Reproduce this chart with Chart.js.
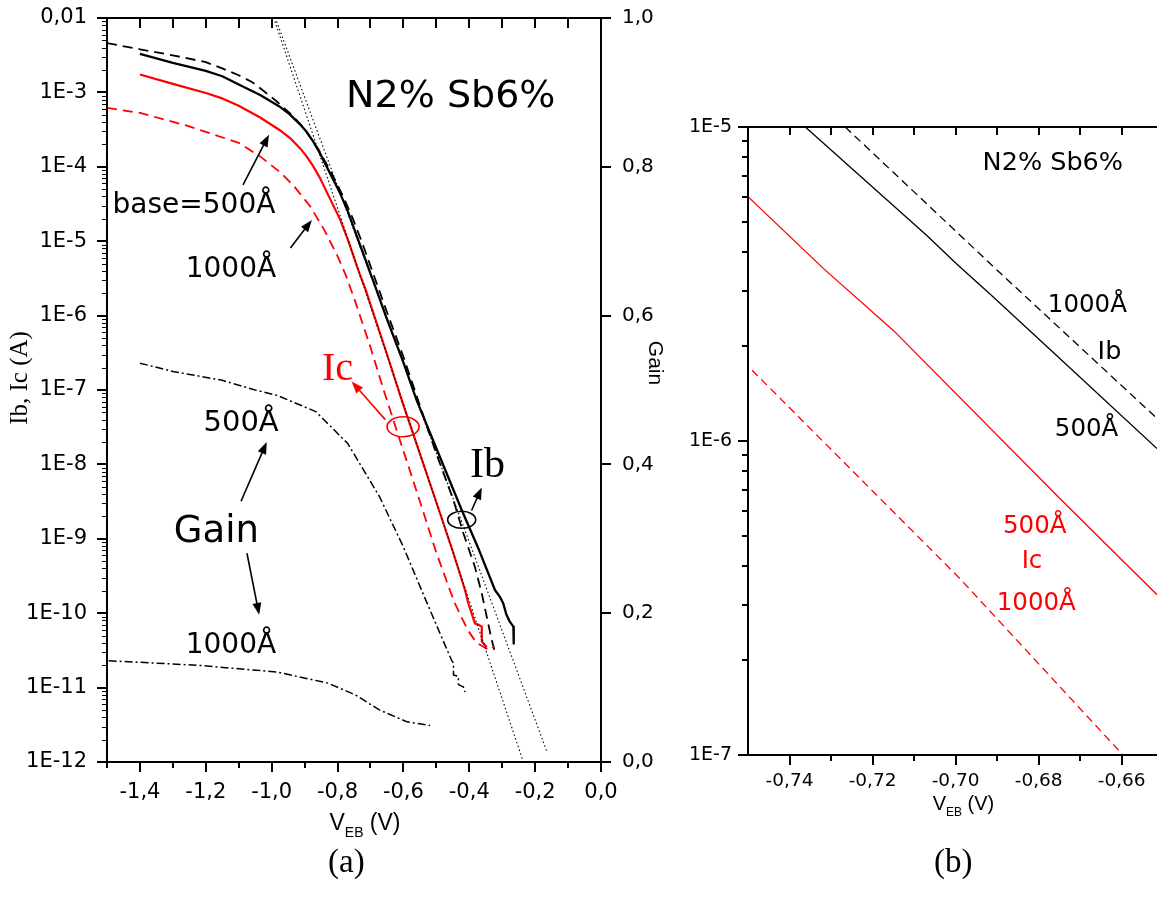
<!DOCTYPE html>
<html>
<head>
<meta charset="utf-8">
<script src="https://cdn.jsdelivr.net/npm/chart.js@4.4.1/dist/chart.umd.min.js"></script>
<style>
  html, body { margin: 0; padding: 0; background: #fff; }
  body { width: 1157px; height: 910px; position: relative; overflow: hidden; }
  #wa { position: absolute; left: 0; top: 0; width: 700px; height: 900px; }
  #wb { position: absolute; left: 660px; top: 0; width: 497px; height: 900px; }
  .cap { position: absolute; top: 845px; font-family: "Liberation Serif", serif; font-size: 33px; line-height: 33px; color: #000; z-index: 5; }
</style>
</head>
<body>
<div id="wa"><canvas id="ca" width="700" height="900"></canvas></div>
<div id="wb"><canvas id="cb" width="497" height="900"></canvas></div>
<div class="cap" style="left:328px">(a)</div>
<div class="cap" style="left:934px">(b)</div>
<script>
// ================= DATA : panel (a) =================
// Ib, base = 500 Å (black solid)
const ib500_V = [-1.40,-1.30,-1.20,-1.15,-1.10,-1.035,-0.975,-0.945,-0.914,-0.894,-0.874,-0.853,-0.833,-0.792,-0.767,-0.736,-0.707,-0.700,-0.691,-0.675,-0.652,-0.600,-0.560,-0.500,-0.423,-0.370,-0.322,-0.307,-0.297,-0.287,-0.277,-0.266,-0.265];
const ib500_A = [3.3e-3,2.5e-3,1.95e-3,1.65e-3,1.28e-3,9.2e-4,6.4e-4,5.07e-4,3.72e-4,2.95e-4,2.19e-4,1.51e-4,1.0e-4,4.4e-5,2.4e-5,1.0e-5,4.5e-6,3.67e-6,2.88e-6,1.83e-6,9.5e-7,2.35e-7,7.3e-8,1.65e-8,2.44e-9,7.0e-10,2.05e-10,1.66e-10,1.36e-10,9.5e-11,7.7e-11,6.6e-11,3.9e-11];
// Ib, base = 1000 Å (black dashed)
const ib1000_V = [-1.50,-1.40,-1.30,-1.20,-1.15,-1.10,-1.06,-1.025,-0.985,-0.944,-0.904,-0.858,-0.818,-0.783,-0.755,-0.727,-0.690,-0.652,-0.600,-0.550,-0.504,-0.448,-0.418,-0.383,-0.362,-0.347,-0.332,-0.322];
const ib1000_A = [4.6e-3,3.8e-3,3.15e-3,2.55e-3,2.1e-3,1.7e-3,1.38e-3,1.05e-3,7.6e-4,5.2e-4,3.4e-4,1.72e-4,8.2e-5,4.0e-5,2.09e-5,1.0e-5,3.5e-6,1.18e-6,2.8e-7,6.2e-8,1.56e-8,3.3e-9,1.19e-9,4.2e-10,1.85e-10,9.0e-11,4.4e-11,3.0e-11];
// Ic, base = 500 Å (red solid)
const ic500_V = [-1.40,-1.30,-1.20,-1.15,-1.10,-1.035,-0.975,-0.945,-0.914,-0.894,-0.874,-0.853,-0.833,-0.792,-0.767,-0.750,-0.732,-0.715,-0.675,-0.652,-0.605,-0.550,-0.500,-0.450,-0.413,-0.403,-0.393,-0.383,-0.372,-0.362,-0.362,-0.347];
const ic500_A = [1.74e-3,1.30e-3,9.8e-4,8.3e-4,6.6e-4,4.6e-4,3.1e-4,2.45e-4,1.78e-4,1.38e-4,1.02e-4,7.0e-5,4.6e-5,1.95e-5,1.0e-5,6.0e-6,3.54e-6,2.25e-6,6.56e-7,3.24e-7,7.3e-8,1.4e-8,3.1e-9,6.8e-10,2.05e-10,1.36e-10,1.0e-10,7.3e-11,7.0e-11,6.6e-11,4.2e-11,3.5e-11];
// Ic, base = 1000 Å (red dashed)
const ic1000_V = [-1.50,-1.40,-1.26,-1.10,-1.035,-0.975,-0.934,-0.883,-0.840,-0.800,-0.775,-0.749,-0.699,-0.660,-0.600,-0.550,-0.500,-0.459,-0.444,-0.423,-0.403,-0.378,-0.350,-0.337,-0.325];
const ic1000_A = [6.2e-4,5.3e-4,3.6e-4,2.1e-4,1.38e-4,8.5e-5,5.6e-5,2.95e-5,1.41e-5,6.3e-6,3.5e-6,1.68e-6,3.65e-7,1.0e-7,1.52e-8,3.2e-9,6.5e-10,2.05e-10,1.37e-10,8.7e-11,5.8e-11,4.0e-11,3.4e-11,3.2e-11,3.6e-11];
// Gain (right axis), 500 Å and 1000 Å (dash-dot)
const gain500_V = [-1.40,-1.30,-1.15,-1.05,-0.985,-0.866,-0.769,-0.673,-0.601,-0.541,-0.489,-0.454,-0.448,-0.448,-0.433,-0.433,-0.418,-0.413];
const gain500_G = [0.536,0.525,0.513,0.500,0.493,0.471,0.428,0.357,0.290,0.227,0.173,0.137,0.133,0.117,0.115,0.104,0.101,0.094];
const gain1000_V = [-1.495,-1.40,-1.225,-0.985,-0.829,-0.745,-0.673,-0.589,-0.519];
const gain1000_G = [0.136,0.134,0.130,0.121,0.106,0.090,0.070,0.054,0.049];
// dotted ideal-slope reference lines
const fitA_V = [-0.990,-0.238];
const fitA_A = [9e-3,1.07e-12];
const fitB_V = [-0.985,-0.163];
const fitB_A = [9e-3,1.33e-12];

// ticks panel (a)
const aXTicks = [-1.4,-1.2,-1.0,-0.8,-0.6,-0.4,-0.2,0.0];
const aXMinor = [-1.5,-1.3,-1.1,-0.9,-0.7,-0.5,-0.3,-0.1];
const aXTop = [-1.4,-1.3,-1.2,-1.1,-1.0,-0.9,-0.8,-0.7,-0.6,-0.5,-0.4,-0.3,-0.2,-0.1];
const aYDecades = [1e-12,1e-11,1e-10,1e-9,1e-8,1e-7,1e-6,1e-5,1e-4,1e-3,1e-2];
const aGainTicks = [0,0.2,0.4,0.6,0.8,1.0];

// ================= DATA : panel (b) =================
const bIb500_V = [-0.7362,-0.707,-0.6998,-0.691,-0.6749,-0.6515];
const bIb500_A = [1.0e-5,4.52e-6,3.67e-6,2.88e-6,1.83e-6,9.46e-7];
const bIb1000_V = [-0.7266,-0.690,-0.6515];
const bIb1000_A = [1.0e-5,3.5e-6,1.18e-6];
const bIc500_V = [-0.750,-0.7318,-0.715,-0.6749,-0.6515];
const bIc500_A = [6.0e-6,3.54e-6,2.25e-6,6.56e-7,3.24e-7];
const bIc1000_V = [-0.749,-0.699,-0.6597];
const bIc1000_A = [1.68e-6,3.65e-7,1.0e-7];

const bXTicks = [-0.74,-0.72,-0.70,-0.68,-0.66];
const bXMinor = [-0.73,-0.71,-0.69,-0.67];
const bXTop = [-0.74,-0.73,-0.72,-0.71,-0.70,-0.69,-0.68,-0.67,-0.66];
const bYDecades = [1e-7,1e-6,1e-5];

const minorMult = [2,3,4,5,6,7,8,9];
const minorsOf = decs => decs.slice(0, -1).flatMap(d => minorMult.map(m => m * d));

// ================= helpers =================
const pts = (xs, ys) => xs.map((x, i) => ({ x: x, y: ys[i] }));
const RED = '#ff0000';
const SANS = 'DejaVu Sans';
const ARIAL = 'Liberation Sans';
const SERIF = 'Liberation Serif';
const dec = v => v.toFixed(1).replace('.', ',');
const expLabel = v => '1E' + Math.round(Math.log10(v));
const noPad = s => { s.paddingTop = 0; s.paddingBottom = 0; s.paddingLeft = 0; s.paddingRight = 0; };

function arrowTo(ctx, x1, y1, x2, y2, color) {
  const ang = Math.atan2(y2 - y1, x2 - x1), L = 12, W = 4.5;
  const c = Math.cos(ang), s = Math.sin(ang);
  ctx.strokeStyle = color; ctx.fillStyle = color; ctx.lineWidth = 1.6;
  ctx.beginPath(); ctx.moveTo(x1, y1); ctx.lineTo(x2 - L * 0.8 * c, y2 - L * 0.8 * s); ctx.stroke();
  ctx.beginPath();
  ctx.moveTo(x2, y2);
  ctx.lineTo(x2 - L * c + W * s, y2 - L * s - W * c);
  ctx.lineTo(x2 - L * c - W * s, y2 - L * s + W * c);
  ctx.closePath(); ctx.fill();
}

const framePlugin = {
  id: 'frame',
  afterDraw(chart, args, opts) {
    const ctx = chart.ctx, a = chart.chartArea;
    ctx.save();
    ctx.strokeStyle = '#000';
    ctx.lineWidth = opts.lineWidth;
    ctx.lineCap = 'square';
    ctx.beginPath();
    opts.sides.forEach(s => {
      if (s === 'left') { ctx.moveTo(a.left, a.top); ctx.lineTo(a.left, a.bottom); }
      if (s === 'right') { ctx.moveTo(a.right, a.top); ctx.lineTo(a.right, a.bottom); }
      if (s === 'top') { ctx.moveTo(a.left, a.top); ctx.lineTo(a.right, a.top); }
      if (s === 'bottom') { ctx.moveTo(a.left, a.bottom); ctx.lineTo(a.right, a.bottom); }
    });
    ctx.stroke();
    ctx.lineCap = 'butt';
    opts.ticks.forEach(t => {
      const sc = chart.scales[t.scale];
      const sg = t.dir === 'out' ? 1 : -1;
      ctx.lineWidth = t.width;
      ctx.beginPath();
      t.values.forEach(v => {
        const p = Math.round(sc.getPixelForValue(v)) + 0.5 * (t.width % 2);
        if (t.edge === 'bottom') { ctx.moveTo(p, a.bottom); ctx.lineTo(p, a.bottom + sg * t.len); }
        if (t.edge === 'top') { ctx.moveTo(p, a.top); ctx.lineTo(p, a.top - sg * t.len); }
        if (t.edge === 'left') { ctx.moveTo(a.left, p); ctx.lineTo(a.left - sg * t.len, p); }
        if (t.edge === 'right') { ctx.moveTo(a.right, p); ctx.lineTo(a.right + sg * t.len, p); }
      });
      ctx.stroke();
    });
    ctx.restore();
  }
};

const notesPlugin = {
  id: 'notes',
  afterDraw(chart, args, opts) {
    const ctx = chart.ctx, a = chart.chartArea;
    const X = chart.scales.x, Y = chart.scales.y;
    ctx.save();
    (opts.ellipses || []).forEach(e => {
      ctx.strokeStyle = e.color; ctx.lineWidth = 1.6;
      ctx.beginPath();
      ctx.ellipse(X.getPixelForValue(e.x), Y.getPixelForValue(e.y), e.rx, e.ry, e.rot || 0, 0, Math.PI * 2);
      ctx.stroke();
    });
    (opts.arrows || []).forEach(r => {
      arrowTo(ctx, X.getPixelForValue(r.x1), Y.getPixelForValue(r.y1), X.getPixelForValue(r.x2), Y.getPixelForValue(r.y2), r.color);
    });
    ctx.textBaseline = 'alphabetic';
    ctx.textAlign = 'left';
    (opts.texts || []).forEach(t => {
      ctx.font = t.font; ctx.fillStyle = t.color;
      ctx.fillText(t.text, X.getPixelForValue(t.x), Y.getPixelForValue(t.y));
    });
    // rotated axis titles
    (opts.vTitles || []).forEach(t => {
      ctx.save();
      ctx.font = t.font; ctx.fillStyle = '#000';
      ctx.textAlign = 'center'; ctx.textBaseline = 'middle';
      const cx = t.side === 'left' ? a.left + t.dx : a.right + t.dx;
      ctx.translate(cx, a.top + t.dy);
      ctx.rotate(t.side === 'left' ? -Math.PI / 2 : Math.PI / 2);
      ctx.fillText(t.text, 0, 0);
      ctx.restore();
    });
    // x-axis title with subscript
    const xt = opts.xTitle;
    if (xt) {
      const parts = [
        { s: 'V', f: xt.size + 'px "' + ARIAL + '"', dy: 0 },
        { s: 'EB', f: xt.sub + 'px "' + ARIAL + '"', dy: xt.subDy },
        { s: ' (V)', f: xt.size + 'px "' + ARIAL + '"', dy: 0 }
      ];
      let w = 0;
      parts.forEach(p => { ctx.font = p.f; p.w = ctx.measureText(p.s).width; w += p.w; });
      let x = (a.left + a.right) / 2 + xt.dx - w / 2;
      const y = a.bottom + xt.dy;
      ctx.fillStyle = '#000';
      parts.forEach(p => { ctx.font = p.f; ctx.fillText(p.s, x, y + p.dy); x += p.w; });
    }
    ctx.restore();
  }
};

// ================= CHART (a) =================
const lineDs = (label, data, color, width, dash, yAxisID) => ({
  label, data, borderColor: color, borderWidth: width, borderDash: dash,
  pointRadius: 0, fill: false, tension: 0, yAxisID: yAxisID || 'y',
  borderJoinStyle: 'round', borderCapStyle: 'butt'
});

new Chart(document.getElementById('ca'), {
  type: 'line',
  data: {
    datasets: [
      lineDs('fit A', pts(fitA_V, fitA_A), '#000', 1.1, [1.5, 2.5]),
      lineDs('fit B', pts(fitB_V, fitB_A), '#000', 1.1, [1.5, 2.5]),
      lineDs('Gain 500Å', pts(gain500_V, gain500_G), '#000', 1.5, [8, 3, 2, 3], 'y2'),
      lineDs('Gain 1000Å', pts(gain1000_V, gain1000_G), '#000', 1.5, [8, 3, 2, 3], 'y2'),
      lineDs('Ic 1000Å', pts(ic1000_V, ic1000_A), RED, 1.8, [10, 6]),
      lineDs('Ic 500Å', pts(ic500_V, ic500_A), RED, 2.2, []),
      lineDs('Ib 1000Å', pts(ib1000_V, ib1000_A), '#000', 1.8, [10, 6]),
      lineDs('Ib 500Å', pts(ib500_V, ib500_A), '#000', 2.3, [])
    ]
  },
  options: {
    responsive: false,
    animation: false,
    layout: { padding: { top: 18, left: 0, right: 0, bottom: 0 } },
    plugins: {
      legend: { display: false },
      tooltip: { enabled: false },
      frame: {
        lineWidth: 2,
        sides: ['left', 'right', 'top', 'bottom'],
        ticks: [
          { scale: 'x', edge: 'bottom', values: aXTicks, len: 10, dir: 'out', width: 2 },
          { scale: 'x', edge: 'bottom', values: aXMinor, len: 6, dir: 'out', width: 2 },
          { scale: 'x', edge: 'top', values: aXTop, len: 10, dir: 'in', width: 2 },
          { scale: 'y', edge: 'left', values: aYDecades, len: 10, dir: 'out', width: 2 },
          { scale: 'y', edge: 'left', values: minorsOf(aYDecades), len: 5, dir: 'out', width: 1 },
          { scale: 'y2', edge: 'right', values: aGainTicks, len: 10, dir: 'out', width: 2 }
        ]
      },
      notes: {
        texts: [
          { text: 'N2% Sb6%', x: -0.774, y: 6.4e-4, font: '38px "' + SANS + '"', color: '#000' },
          { text: 'base=500Å', x: -1.483, y: 2.4e-5, font: '28px "' + SANS + '"', color: '#000' },
          { text: '1000Å', x: -1.261, y: 3.3e-6, font: '28px "' + SANS + '"', color: '#000' },
          { text: '500Å', x: -1.207, y: 2.8e-8, font: '29px "' + SANS + '"', color: '#000' },
          { text: 'Gain', x: -1.297, y: 9.1e-10, font: '37px "' + SANS + '"', color: '#000' },
          { text: '1000Å', x: -1.261, y: 2.9e-11, font: '28px "' + SANS + '"', color: '#000' },
          { text: 'Ic', x: -0.847, y: 1.36e-7, font: '40px "' + SERIF + '"', color: RED },
          { text: 'Ib', x: -0.398, y: 6.8e-9, font: '42px "' + SERIF + '"', color: '#000' }
        ],
        arrows: [
          { x1: -1.087, y1: 5.7e-5, x2: -1.008, y2: 2.7e-4, color: '#000' },
          { x1: -0.943, y1: 8.1e-6, x2: -0.878, y2: 1.93e-5, color: '#000' },
          { x1: -1.093, y1: 3.2e-9, x2: -1.015, y2: 2.0e-8, color: '#000' },
          { x1: -1.075, y1: 6.4e-10, x2: -1.038, y2: 9.5e-11, color: '#000' },
          { x1: -0.655, y1: 4.0e-8, x2: -0.757, y2: 1.3e-7, color: RED },
          { x1: -0.393, y1: 2.4e-9, x2: -0.362, y2: 4.9e-9, color: '#000' }
        ],
        ellipses: [
          { x: -0.601, y: 3.2e-8, rx: 16, ry: 10, color: RED },
          { x: -0.423, y: 1.8e-9, rx: 14, ry: 8.5, color: '#000' }
        ],
        vTitles: [
          { text: 'Ib, Ic (A)', side: 'left', dx: -87, dy: 360, font: '25px "' + SERIF + '"' },
          { text: 'Gain', side: 'right', dx: 54, dy: 345, font: '21px "' + ARIAL + '"' }
        ],
        xTitle: { size: 23, sub: 14, subDy: 7, dx: 11, dy: 68 }
      }
    },
    scales: {
      x: {
        type: 'linear', position: 'bottom', min: -1.5, max: 0,
        grid: { display: false, drawTicks: false },
        border: { display: false },
        ticks: { autoSkip: false, maxRotation: 0, padding: 18, color: '#000', font: { family: SANS, size: 21 }, callback: v => dec(v) },
        afterBuildTicks: s => { s.ticks = aXTicks.map(v => ({ value: v })); },
        afterFit: s => { s.height = 138; noPad(s); }
      },
      y: {
        type: 'logarithmic', position: 'left', min: 1e-12, max: 1e-2,
        grid: { display: false, drawTicks: false },
        border: { display: false },
        ticks: { autoSkip: false, padding: 20, color: '#000', font: { family: SANS, size: 21 }, callback: v => (v === 1e-2 ? '0,01' : expLabel(v)) },
        afterBuildTicks: s => { s.ticks = aYDecades.map(v => ({ value: v })); },
        afterFit: s => { s.width = 107; noPad(s); }
      },
      y2: {
        type: 'linear', position: 'right', min: 0, max: 1,
        grid: { display: false, drawTicks: false },
        border: { display: false },
        ticks: { autoSkip: false, padding: 21, color: '#000', font: { family: SANS, size: 20 }, callback: v => dec(v) },
        afterBuildTicks: s => { s.ticks = aGainTicks.map(v => ({ value: v })); },
        afterFit: s => { s.width = 99; noPad(s); }
      }
    }
  },
  plugins: [framePlugin, notesPlugin]
});

// ================= CHART (b) =================
new Chart(document.getElementById('cb'), {
  type: 'line',
  data: {
    datasets: [
      lineDs('Ic 1000Å', pts(bIc1000_V, bIc1000_A), RED, 1.3, [8, 5]),
      lineDs('Ic 500Å', pts(bIc500_V, bIc500_A), RED, 1.3, []),
      lineDs('Ib 1000Å', pts(bIb1000_V, bIb1000_A), '#000', 1.3, [8, 5]),
      lineDs('Ib 500Å', pts(bIb500_V, bIb500_A), '#000', 1.3, [])
    ]
  },
  options: {
    responsive: false,
    animation: false,
    layout: { padding: { top: 127, left: 0, right: 0, bottom: 0 } },
    plugins: {
      legend: { display: false },
      tooltip: { enabled: false },
      frame: {
        lineWidth: 2,
        sides: ['left', 'top', 'bottom'],
        ticks: [
          { scale: 'x', edge: 'bottom', values: bXTicks, len: 10, dir: 'out', width: 2 },
          { scale: 'x', edge: 'bottom', values: bXMinor, len: 6, dir: 'out', width: 2 },
          { scale: 'x', edge: 'top', values: bXTop, len: 8, dir: 'in', width: 2 },
          { scale: 'y', edge: 'left', values: bYDecades, len: 10, dir: 'out', width: 2 },
          { scale: 'y', edge: 'left', values: minorsOf(bYDecades), len: 6, dir: 'out', width: 2 }
        ]
      },
      notes: {
        texts: [
          { text: 'N2% Sb6%', x: -0.6935, y: 7.3e-6, font: '25.5px "' + SANS + '"', color: '#000' },
          { text: '1000Å', x: -0.6778, y: 2.58e-6, font: '24.5px "' + SANS + '"', color: '#000' },
          { text: 'Ib', x: -0.6658, y: 1.83e-6, font: '25.5px "' + SANS + '"', color: '#000' },
          { text: '500Å', x: -0.6761, y: 1.04e-6, font: '24.5px "' + SANS + '"', color: '#000' },
          { text: '500Å', x: -0.6886, y: 5.08e-7, font: '24.5px "' + SANS + '"', color: RED },
          { text: 'Ic', x: -0.6841, y: 3.94e-7, font: '24.5px "' + SANS + '"', color: RED },
          { text: '1000Å', x: -0.6901, y: 2.89e-7, font: '24.5px "' + SANS + '"', color: RED }
        ],
        xTitle: { size: 20, sub: 12, subDy: 6, dx: 11, dy: 55 }
      }
    },
    scales: {
      x: {
        type: 'linear', position: 'bottom', min: -0.75, max: -0.6515,
        grid: { display: false, drawTicks: false },
        border: { display: false },
        ticks: { autoSkip: false, maxRotation: 0, padding: 15, color: '#000', font: { family: SANS, size: 18.5 }, callback: v => v.toFixed(2).replace('.', ',') },
        afterBuildTicks: s => { s.ticks = bXTicks.map(v => ({ value: v })); },
        afterFit: s => { s.height = 145; noPad(s); }
      },
      y: {
        type: 'logarithmic', position: 'left', min: 1e-7, max: 1e-5,
        grid: { display: false, drawTicks: false },
        border: { display: false },
        ticks: { autoSkip: false, padding: 16, color: '#000', font: { family: SANS, size: 19 }, callback: v => expLabel(v) },
        afterBuildTicks: s => { s.ticks = bYDecades.map(v => ({ value: v })); },
        afterFit: s => { s.width = 88; noPad(s); }
      }
    }
  },
  plugins: [framePlugin, notesPlugin]
});
</script>
</body>
</html>
